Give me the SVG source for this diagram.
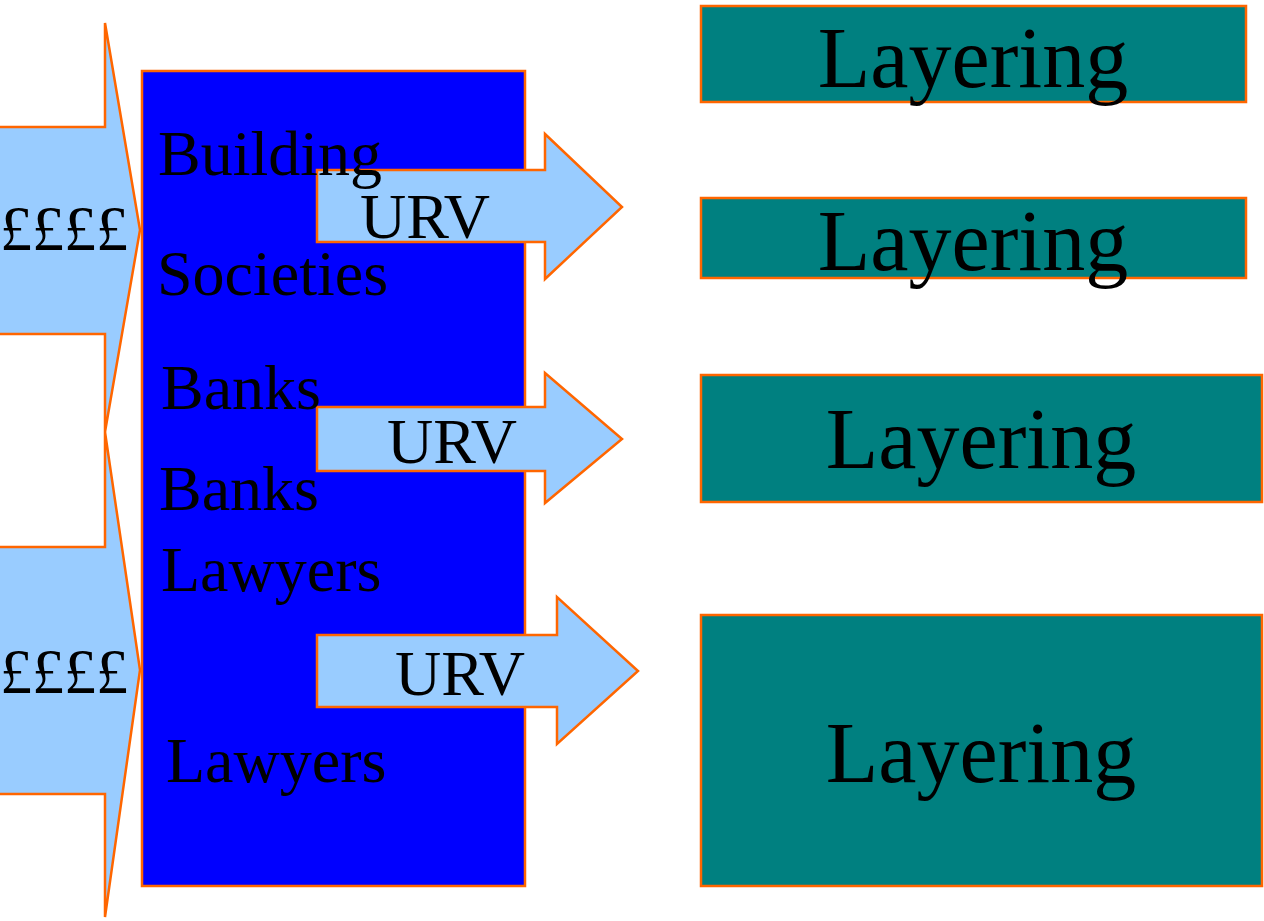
<svg xmlns="http://www.w3.org/2000/svg" width="1264" height="921" viewBox="0 0 1264 921">
  <style>
    .edge { stroke: #FF6600; stroke-width: 2.5; stroke-linejoin: miter; }
    .flow { fill: #99CCFF; }
    .hub { fill: #0000FF; }
    .layer { fill: #008080; }
    text { font-family: "Liberation Serif", "Times New Roman", serif; fill: #000000; }
    .lbl { font-size: 64px; }
    .cash { font-size: 64px; }
    .urv { font-size: 64px; }
    .lay { font-size: 86px; text-anchor: middle; }
  </style>

  <!-- incoming money flows -->
  <g id="inflow-top">
    <polygon class="flow edge" points="-5,127 105,127 105,23 140,230 105,432 105,334 -5,334"/>
    <text class="cash" x="0" y="250">££££</text>
  </g>
  <g id="inflow-bottom">
    <polygon class="flow edge" points="-5,547 105,547 105,432 140,670 105,917 105,794 -5,794"/>
    <text class="cash" x="0" y="693">££££</text>
  </g>

  <!-- institutions column -->
  <g id="institutions">
    <rect class="hub edge" x="142" y="71" width="383" height="815"/>
  </g>

  <!-- URV arrows -->
  <g id="connectors">
    <polygon id="urv-1" class="flow edge" points="317,170 545,170 545,134 622,207 545,279 545,242 317,242"/>
    <polygon id="urv-2" class="flow edge" points="317,407 545,407 545,373 622,439 545,503 545,471 317,471"/>
    <polygon id="urv-3" class="flow edge" points="317,635 557,635 557,597 638,671 557,744 557,707 317,707"/>
  </g>

  <!-- institution labels -->
  <g id="institution-labels">
    <text class="lbl" x="158" y="175">Building</text>
    <text class="lbl" x="157" y="295">Societies</text>
    <text class="lbl" x="161" y="409">Banks</text>
    <text class="lbl" x="159" y="510">Banks</text>
    <text class="lbl" x="161" y="591">Lawyers</text>
    <text class="lbl" x="166" y="782">Lawyers</text>
    <text class="urv" x="360" y="238">URV</text>
    <text class="urv" x="387" y="463">URV</text>
    <text class="urv" x="395" y="695">URV</text>
  </g>

  <!-- layering destinations -->
  <g id="layering-1">
    <rect class="layer edge" x="701" y="6" width="545" height="96"/>
    <text class="lay" x="973" y="87">Layering</text>
  </g>
  <g id="layering-2">
    <rect class="layer edge" x="701" y="198" width="545" height="80"/>
    <text class="lay" x="973" y="270">Layering</text>
  </g>
  <g id="layering-3">
    <rect class="layer edge" x="701" y="375" width="561" height="127"/>
    <text class="lay" x="981" y="468">Layering</text>
  </g>
  <g id="layering-4">
    <rect class="layer edge" x="701" y="615" width="561" height="271"/>
    <text class="lay" x="981" y="782">Layering</text>
  </g>
</svg>
